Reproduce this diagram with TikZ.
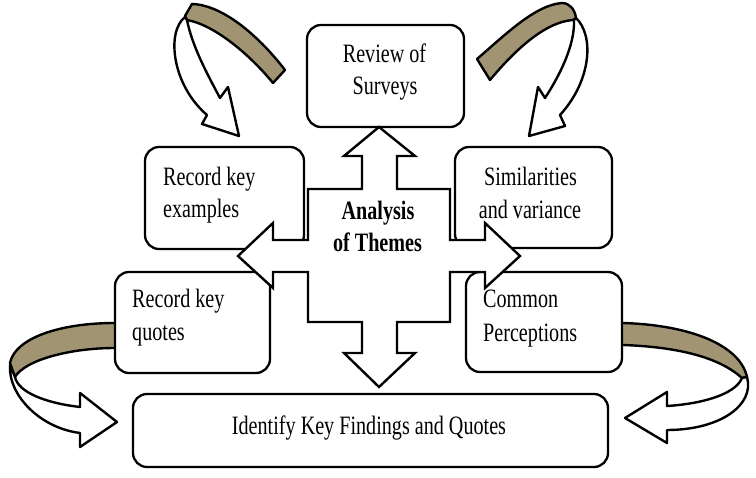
\documentclass[tikz,border=0pt]{standalone}
\usepackage{fontspec}
\setmainfont{Liberation Serif}[FakeStretch=0.76]
\begin{document}
\begin{tikzpicture}[x=1pt,y=-1pt,
  box/.style={draw=black,line width=2.3pt,rounded corners=14pt,fill=white},
  lbl/.style={inner sep=0pt,font=\fontsize{26.5}{30}\selectfont},
  bl/.style={inner sep=0pt,font=\fontsize{26.5}{30}\selectfont\bfseries},
  band/.style={draw=black,line width=2.4pt,line join=round,fill=tanc},
  warrow/.style={draw=black,line width=2.4pt,line join=round,fill=white},
  cross/.style={draw=black,line width=2.4pt,line join=miter,fill=white}]
\definecolor{tanc}{RGB}{160,148,114}
\useasboundingbox (0,0) rectangle (756,478);
% curved arrows
\path[band] (192,4) .. controls (225,5) and (262,40) .. (285,70) -- (273,83) .. controls (250,55) and (215,25) .. (187,20) -- (185,16) -- cycle;
\path[warrow] (185,17) .. controls (166,32) and (172,85) .. (207,115) -- (202,124) -- (239,136) -- (228,87) -- (220,98) .. controls (205,70) and (192,45) .. (187,20) -- cycle;
\path[band] (477,59) .. controls (505,35) and (535,5) .. (562,3) .. controls (570,3) and (575,10) .. (576,18) -- (573,20) .. controls (545,22) and (515,50) .. (490,80) -- cycle;
\path[warrow] (576,18) .. controls (594,35) and (592,80) .. (560,115) -- (565,126) -- (529,136) -- (538,87) -- (545,98) .. controls (560,75) and (575,45) .. (574,20) -- cycle;
\path[band] (125,323) -- (115,323) .. controls (60,323) and (15,338) .. (10,363) -- (15,377) .. controls (25,360) and (70,348) .. (115,348) -- (125,348) -- cycle;
\path[warrow] (10,365) .. controls (8,395) and (40,428) .. (80,433) -- (80,447) -- (117,422) -- (80,393) -- (80,407) .. controls (45,403) and (18,392) .. (15,377) -- cycle;
\path[band] (613,323) -- (623,323) .. controls (690,325) and (740,345) .. (747,377) -- (742,378) .. controls (720,358) and (680,347) .. (623,345) -- (613,345) -- cycle;
\path[warrow] (747,377) .. controls (755,405) and (720,430) .. (667,430) -- (667,443) -- (625,418) -- (667,392) -- (667,406) .. controls (700,404) and (735,395) .. (742,378) -- cycle;
% boxes
\node[box,minimum width=157pt,minimum height=102pt] (rev) at (385.5,76) {};
\node[box,minimum width=159pt,minimum height=102pt] (exa) at (224.5,198) {};
\node[box,minimum width=157pt,minimum height=101pt] (sim) at (533.5,197.5) {};
\node[box,minimum width=155pt,minimum height=101pt] (quo) at (192.5,322.5) {};
\node[box,minimum width=156pt,minimum height=100pt] (com) at (544,322) {};
\node[box,minimum width=475pt,minimum height=73pt] (idf) at (370.5,430.5) {};
% cross
\path[cross] (379,127) -- (415,156) -- (397,156) -- (397,189) -- (450,189) -- (450,240) -- (485,240) -- (485,223) -- (520,256) -- (485,288) -- (485,272) -- (450,272) -- (450,322) -- (397,322) -- (397,353) -- (415,353) -- (379,387) -- (344,353) -- (362,353) -- (362,322) -- (308,322) -- (308,272) -- (273,272) -- (273,288) -- (238,256) -- (273,223) -- (273,240) -- (308,240) -- (308,189) -- (362,189) -- (362,156) -- (344,156) -- cycle;
% texts
\node[lbl,anchor=base] (t1) at (384.5,63) {Review of};
\node[lbl,anchor=base] (t2) at (385,95) {Surveys};
\node[lbl,anchor=base west] (t3) at (163,186) {Record key};
\node[lbl,anchor=base west] (t4) at (163,218) {examples};
\node[lbl,anchor=base] (t5) at (530.5,186) {Similarities};
\node[lbl,anchor=base] (t6) at (530,219) {and variance};
\node[bl,anchor=base] (t7) at (378,220) {Analysis};
\node[bl,anchor=base] (t8) at (377.5,252) {of Themes};
\node[lbl,anchor=base west] (t9) at (132,308) {Record key};
\node[lbl,anchor=base west] (t10) at (132,341) {quotes};
\node[lbl,anchor=base west] (t11) at (483,308) {Common};
\node[lbl,anchor=base west] (t12) at (483,342) {Perceptions};
\node[lbl,anchor=base] (t13) at (369,435) {Identify Key Findings and Quotes};
\end{tikzpicture}
\end{document}
